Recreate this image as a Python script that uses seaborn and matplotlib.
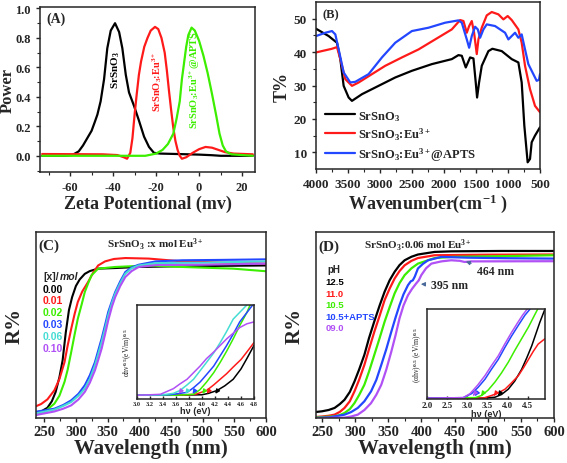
import numpy as np
import pandas as pd
import matplotlib
matplotlib.use('Agg')
import matplotlib.pyplot as plt
import seaborn as sns

# ---------------- (A) Zeta potential ----------------
zeta_x_srsno3 = [-73, -62, -59, -56, -54, -52, -50, -48.5, -47.3, -45.8, -44.2, -42.7, -41.1, -39.1, -37.2, -35.7, -34.1, -32.6, -30.3, -28, -25.6, -23.3, -21, -18, -10, 0, 6, 10, 25]
zeta_srsno3 = [0, 0, 0.005, 0.03, 0.07, 0.12, 0.17, 0.23, 0.28, 0.37, 0.52, 0.73, 0.85, 0.90, 0.84, 0.73, 0.55, 0.43, 0.34, 0.24, 0.13, 0.06, 0.02, 0.015, 0.012, 0.008, 0.004, 0.0, 0.0]
zeta_x_eu = [-73, -45, -38, -35, -33.5, -32, -31, -30, -29, -28, -27, -25.5, -24, -22.5, -20.5, -19, -17.5, -16, -15, -14, -13, -12, -11, -10, -9, -8, -6, -3, 0, 3, 6, 9, 12, 16, 25]
zeta_eu = [0.012, 0.01, 0.005, -0.01, -0.02, 0.02, 0.12, 0.28, 0.42, 0.55, 0.64, 0.74, 0.80, 0.85, 0.875, 0.86, 0.80, 0.70, 0.58, 0.44, 0.31, 0.19, 0.10, 0.04, 0.0, -0.02, -0.01, 0.02, 0.045, 0.06, 0.055, 0.04, 0.025, 0.015, 0.01]
zeta_x_apts = [-73, -25, -20, -17, -14.5, -12, -10.5, -9, -8, -7, -6, -5, -3.5, -2, 0, 2, 4, 6, 8, 9.5, 11, 12.5, 15, 25]
zeta_apts = [0, 0, 0.015, 0.04, 0.08, 0.15, 0.25, 0.37, 0.52, 0.63, 0.74, 0.82, 0.87, 0.85, 0.78, 0.68, 0.56, 0.42, 0.27, 0.15, 0.07, 0.03, 0.01, 0]

# ---------------- (B) FTIR ----------------
ir_x_srsno3 = [4000, 3802, 3672, 3620, 3568, 3490, 3438, 3282, 3022, 2762, 2502, 2190, 1878, 1774, 1722, 1660, 1592, 1540, 1504, 1483, 1452, 1410, 1306, 1244, 1098, 942, 838, 786, 745, 693, 656, 630, 578, 500]
ir_srsno3 = [47, 44.8, 42.8, 37.9, 29.9, 26.4, 25.4, 27.4, 29.9, 32.4, 34.4, 36.4, 37.9, 39.1, 38.9, 35.4, 38.4, 38.1, 30.9, 26.4, 30.9, 35.9, 40.3, 41.0, 40.3, 37.9, 36.9, 30.9, 18, 7, 8, 13, 15, 17.5]
ir_x_eu = [4000, 3750, 3672, 3620, 3542, 3438, 3334, 3126, 2918, 2658, 2398, 2138, 1878, 1748, 1696, 1644, 1607, 1566, 1530, 1488, 1462, 1410, 1332, 1254, 1150, 1072, 1005, 942, 838, 786, 734, 656, 578, 500]
ir_eu = [39.9, 41, 41.5, 37.9, 31.9, 29.9, 30.9, 33.4, 35.9, 38.4, 40.8, 43.8, 46.8, 49.6, 49.3, 45.8, 47.8, 49.3, 45.8, 39.4, 43.8, 47.3, 51, 52, 51.3, 49.8, 50.8, 49.6, 46.8, 42.8, 35.9, 28.9, 23.9, 22]
ir_x_apts = [4000, 3854, 3750, 3698, 3646, 3568, 3464, 3386, 3178, 2970, 2762, 2502, 2242, 1982, 1774, 1722, 1644, 1607, 1566, 1514, 1472, 1436, 1384, 1332, 1202, 1046, 994, 890, 838, 786, 734, 682, 604, 552, 516, 500]
ir_apts = [44.8, 45.8, 46.3, 45.3, 40.8, 33.9, 30.9, 31.1, 33.4, 38.4, 42.8, 46.3, 47.3, 48.8, 49.5, 48.8, 43.8, 41.3, 44.8, 47.6, 46.8, 44.3, 46.8, 48.3, 47.8, 45.8, 43.8, 45.8, 44.3, 45.3, 40.8, 36.4, 33.4, 31.4, 31.7, 33.4]

# ---------------- (C) reflectance vs Eu content ----------------
c_labels = ['0.00', '0.01', '0.02', '0.03', '0.06', '0.10']
c_x_000 = [234, 245, 255, 262, 268, 274, 279, 284, 289, 294, 300, 306, 314, 322, 335, 360, 400, 450, 500, 600]
c_000 = [3, 3.5, 5.5, 9, 14, 22, 31, 46, 58, 65, 71, 74.5, 77.5, 79, 80.3, 80.6, 81.2, 81.5, 81.7, 82]
c_x_001 = [234, 245, 255, 266, 274, 282, 287, 292.6, 298, 303, 310, 319, 327, 335, 346, 360, 378, 415, 468, 530, 600]
c_001 = [5.9, 7.5, 10, 14.9, 21, 30, 39, 48, 56, 62.4, 68, 73, 78, 82, 84.2, 85.5, 86, 85.7, 84.2, 83.6, 83]
c_x_002 = [234, 250, 266, 274, 282, 287, 292.6, 298, 303, 309, 314, 320, 324.6, 335, 362, 415, 468, 548, 600]
c_002 = [1.4, 3.2, 7.7, 12, 19.4, 26, 35.5, 45, 53.4, 61, 67.7, 73, 76.7, 80.3, 81.2, 82, 81.2, 80.3, 78.9]
c_x_003 = [234, 266, 280, 292.6, 304, 314, 322, 330, 335, 340.6, 346, 351, 357, 362, 370, 378, 388, 399, 426, 468, 530, 600]
c_003 = [3.2, 5, 7, 9.5, 13, 17.6, 23, 30, 36, 42.7, 50, 57, 63, 67.7, 73.5, 78.5, 81, 82.4, 84.2, 84.8, 85, 85.3]
c_x_006 = [234, 266, 280, 292.6, 304, 314, 322, 330, 335, 340.6, 346, 351, 357, 362, 370, 378, 388, 399, 426, 500, 600]
c_006 = [2.3, 4.5, 6.5, 8.6, 12, 15.8, 21, 28.3, 34, 40.9, 48, 55.2, 62, 66.8, 72.5, 77.6, 80.5, 82, 83.3, 83.5, 84.2]
c_x_010 = [234, 266, 280, 292.6, 304, 314, 322, 330, 335, 340.6, 346, 351, 357, 362, 370, 378, 388, 399, 426, 500, 600]
c_010 = [1.4, 3.5, 5, 6.8, 10, 14, 19, 25.6, 31, 37.3, 45, 52.5, 60, 65, 71, 75.8, 79, 81.2, 82.2, 82.4, 83]

# inset (C): Tauc plot
tc_x_000 = [3.0, 3.6, 4.0, 4.1, 4.23, 4.35, 4.48, 4.6, 4.69, 4.8]
tc_000 = [0.04, 0.04, 0.045, 0.06, 0.09, 0.14, 0.21, 0.32, 0.43, 0.57]
tc_x_001 = [3.0, 3.6, 3.9, 4.07, 4.18, 4.28, 4.38, 4.48, 4.6, 4.69, 4.8]
tc_001 = [0.04, 0.04, 0.05, 0.09, 0.15, 0.21, 0.27, 0.34, 0.42, 0.5, 0.6]
tc_x_002 = [3.0, 3.6, 3.87, 3.97, 4.07, 4.18, 4.28, 4.38, 4.48, 4.58, 4.69, 4.74]
tc_002 = [0.04, 0.04, 0.05, 0.1, 0.18, 0.28, 0.39, 0.51, 0.64, 0.78, 0.92, 1.0]
tc_x_003 = [3.0, 3.5, 3.77, 3.87, 3.97, 4.07, 4.18, 4.28, 4.38, 4.48, 4.58, 4.78]
tc_003 = [0.04, 0.045, 0.07, 0.12, 0.18, 0.26, 0.35, 0.46, 0.57, 0.69, 0.82, 1.0]
tc_x_006 = [3.0, 3.4, 3.56, 3.66, 3.77, 3.87, 3.97, 4.07, 4.18, 4.28, 4.38, 4.48, 4.69]
tc_006 = [0.04, 0.045, 0.06, 0.09, 0.15, 0.21, 0.3, 0.39, 0.49, 0.6, 0.72, 0.85, 1.0]
tc_x_010 = [3.0, 3.2, 3.36, 3.46, 3.56, 3.66, 3.77, 3.87, 3.97, 4.07, 4.18, 4.28, 4.38, 4.48, 4.58, 4.69, 4.8]
tc_010 = [0.04, 0.045, 0.05, 0.08, 0.11, 0.16, 0.21, 0.28, 0.35, 0.43, 0.5, 0.57, 0.64, 0.7, 0.76, 0.8, 0.82]
tc_gap = [4.18, 4.05, 3.98, 3.83, 3.72, 3.62]

# ---------------- (D) reflectance vs pH ----------------
d_labels = ['12.5', '11.0', '10.5', '10.5+APTS', '09.0']
d_x_125 = [240, 250, 260, 269, 277, 284, 292, 299, 306, 314, 321, 329, 337, 344.5, 352, 359.6, 367, 374.7, 385, 394.8, 420, 445, 520, 600]
d_125 = [3.2, 3.6, 4.3, 5.4, 7.5, 9.8, 14, 19.6, 26, 34, 43, 52, 60.5, 67.9, 74, 78.6, 82.2, 84.8, 86.7, 87.9, 89.3, 89.6, 89.8, 89.8]
d_x_110 = [240, 250, 260, 269, 277, 284, 292, 299, 306, 314, 321, 329, 337, 344.5, 352, 359.6, 367, 374.7, 385, 394.8, 420, 500, 600]
d_110 = [0.5, 0.8, 1.2, 1.8, 3.3, 5.4, 9, 14.3, 20.5, 28.6, 37, 46.4, 55, 63.4, 69.5, 75, 79, 82.1, 84.5, 86, 87.5, 87.8, 87.9]
d_x_105 = [240, 269, 277, 284, 292, 299, 306, 314, 321, 329, 337, 344.5, 352, 359.6, 367, 374.7, 385, 394.8, 420, 445, 520, 600]
d_105 = [0.3, 0.9, 1.6, 2.7, 4.8, 8, 12.3, 17.9, 25, 34, 43, 51.8, 59.5, 67, 72.5, 76.8, 80.5, 83, 86, 86.6, 87, 87.5]
d_x_apts = [240, 262, 284, 294, 304, 314, 324, 332, 339.5, 347, 354.6, 361, 367, 373, 379.7, 384, 387, 390, 394.8, 402, 410, 430, 470, 530, 600]
d_apts = [0, 0.4, 1.8, 3.2, 5.4, 9, 14.3, 20.5, 28.6, 37, 46.4, 54, 60.7, 66.5, 71.4, 73.5, 74, 76, 80.4, 82.8, 84.8, 86.6, 86.2, 85.9, 85.7]
d_x_090 = [240, 284, 294, 304, 314, 324, 332, 339.5, 347, 354.6, 361, 367, 373, 379.7, 386, 392, 396, 399.8, 407, 415, 430, 445, 458, 465, 475, 600]
d_090 = [0, 0.2, 0.8, 1.8, 4.3, 8, 12.5, 17.9, 26, 35.7, 44.5, 53.6, 60.5, 66, 69.5, 72.3, 74, 76.8, 80.5, 83, 84.2, 84.8, 84.5, 83.9, 84.2, 84.3]

# inset (D): Tauc plot
td_x_125 = [2.0, 3.4, 3.69, 3.85, 4.02, 4.18, 4.35, 4.48, 4.6, 4.7, 4.8, 4.93]
td_125 = [0.01, 0.01, 0.02, 0.05, 0.11, 0.2, 0.33, 0.46, 0.59, 0.72, 0.85, 1.0]
td_x_110 = [2.0, 3.4, 3.61, 3.78, 3.94, 4.1, 4.27, 4.4, 4.52, 4.64, 4.76, 4.93]
td_110 = [0.01, 0.01, 0.04, 0.07, 0.11, 0.18, 0.26, 0.35, 0.44, 0.53, 0.61, 0.67]
td_x_105 = [2.0, 3.2, 3.36, 3.52, 3.69, 3.85, 4.02, 4.18, 4.35, 4.52, 4.68, 4.75]
td_105 = [0.01, 0.015, 0.04, 0.1, 0.19, 0.29, 0.41, 0.54, 0.67, 0.8, 0.94, 1.0]
td_x_apts = [2.0, 2.9, 3.11, 3.27, 3.44, 3.6, 3.77, 3.93, 4.1, 4.27, 4.43, 4.56]
td_apts = [0.01, 0.015, 0.06, 0.13, 0.22, 0.33, 0.44, 0.57, 0.7, 0.82, 0.93, 1.0]
td_x_090 = [2.0, 2.9, 3.07, 3.25, 3.44, 3.6, 3.77, 3.93, 4.1, 4.24, 4.37, 4.49]
td_090 = [0.01, 0.015, 0.06, 0.15, 0.26, 0.37, 0.48, 0.61, 0.74, 0.84, 0.93, 1.0]
td_gap = [3.72, 3.62, 3.3, 3.15, 3.1]

BLACK, RED, GREEN, BLUE, CYAN, PURPLE = 'black', '#ff1a1a', '#3cee00', '#2346ff', '#45dcd4', '#b050f5'

sns.set_style('ticks')
plt.rcParams['font.family'] = ['Liberation Serif', 'DejaVu Serif']
plt.rcParams['font.weight'] = 'bold'
plt.rcParams['mathtext.fontset'] = 'custom'
plt.rcParams['mathtext.rm'] = 'Liberation Serif:bold'
plt.rcParams['mathtext.it'] = 'Liberation Serif:italic:bold'
plt.rcParams['mathtext.bf'] = 'Liberation Serif:bold'
plt.rcParams['mathtext.default'] = 'rm'
plt.rcParams['axes.unicode_minus'] = False
plt.rcParams['axes.linewidth'] = 1.1
plt.rcParams['xtick.major.width'] = 1.0
plt.rcParams['ytick.major.width'] = 1.0
plt.rcParams['xtick.minor.width'] = 0.8
plt.rcParams['ytick.minor.width'] = 0.8

W, H = 567, 464
fig = plt.figure(figsize=(W / 100, H / 100), dpi=100)


def box(l, t, r, b):
    return [l / W, 1 - b / H, (r - l) / W, (b - t) / H]


def line(ax, x, y, c, lw=1.6):
    sns.lineplot(x=x, y=y, ax=ax, color=c, lw=lw, sort=False, estimator=None)


# ---- (A)
axA = fig.add_axes(box(40, 8, 255, 173))
line(axA, zeta_x_srsno3, zeta_srsno3, BLACK)
line(axA, zeta_x_eu, zeta_eu, RED)
line(axA, zeta_x_apts, zeta_apts, GREEN)
axA.set_xlim(-74, 26)
axA.set_ylim(-0.11, 1.01)
axA.set_xticks([-60, -40, -20, 0, 20])
axA.set_xticks([-70, -50, -30, -10, 10], minor=True)
axA.set_yticks([0.0, 0.2, 0.4, 0.6, 0.8, 1.0])
axA.set_yticks([-0.1, 0.1, 0.3, 0.5, 0.7, 0.9], minor=True)
axA.tick_params(labelsize=9, length=3)
axA.tick_params(which='minor', length=2)
axA.set_xlabel('Zeta Potentional (mv)', fontsize=13, fontweight='bold', labelpad=1)
axA.set_ylabel('Power', fontsize=12, fontweight='bold')
axA.yaxis.set_label_coords(-0.115, 0.5)
axA.text(0.03, 0.91, '(A)', transform=axA.transAxes, fontsize=10, fontweight='bold')
axA.text(-38.8, 0.59, 'SrSnO$_3$', rotation=90, ha='center', va='center', fontsize=8, color=BLACK)
axA.text(-19.4, 0.51, 'SrSnO$_3$:Eu$^{3+}$', rotation=90, ha='center', va='center', fontsize=7.5, color=RED)
axA.text(-2.2, 0.52, 'SrSnO$_3$:Eu$^{3+}$@APTS', rotation=90, ha='center', va='center', fontsize=7.5, color=GREEN)

# ---- (B)
axB = fig.add_axes(box(316, 3, 540, 170))
line(axB, ir_x_srsno3, ir_srsno3, BLACK)
line(axB, ir_x_eu, ir_eu, RED)
line(axB, ir_x_apts, ir_apts, BLUE)
axB.set_xlim(4000, 500)
axB.set_ylim(5, 55)
axB.set_xticks([4000, 3500, 3000, 2500, 2000, 1500, 1000, 500])
axB.set_xticks(np.arange(750, 4000, 500), minor=True)
axB.set_yticks([10, 20, 30, 40, 50])
axB.set_yticks([15, 25, 35, 45], minor=True)
axB.tick_params(labelsize=9.5, length=3)
axB.tick_params(which='minor', length=2)
axB.set_xlabel('Wavenumber(cm$^{-1}$ )', fontsize=13, fontweight='bold', labelpad=1)
axB.set_ylabel('T%', fontsize=13, fontweight='bold', labelpad=2)
axB.text(0.03, 0.91, '(B)', transform=axB.transAxes, fontsize=9, fontweight='bold')
axB.legend(axB.get_lines(), ['SrSnO$_3$', 'SrSnO$_3$:Eu$^{3+}$', 'SrSnO$_3$:Eu$^{3+}$@APTS'],
           loc='lower left', bbox_to_anchor=(0.0, -0.015), frameon=False, fontsize=9,
           handlelength=2.4, handletextpad=0.3, labelspacing=0.25, borderaxespad=0.3)

# ---- (C)
axC = fig.add_axes(box(36, 233, 266, 419))
c_sets = [(c_x_000, c_000), (c_x_001, c_001), (c_x_002, c_002), (c_x_003, c_003), (c_x_006, c_006), (c_x_010, c_010)]
c_cols = [BLACK, RED, GREEN, BLUE, CYAN, PURPLE]
for (x, y), c in zip(c_sets, c_cols):
    line(axC, x, y, c, 1.5)
axC.set_xlim(237, 600)
axC.set_ylim(0, 100)
axC.set_yticks([])
axC.set_xticks(np.arange(250, 601, 50))
axC.set_xticks(np.arange(275, 600, 50), minor=True)
axC.tick_params(labelsize=10.5, length=3, pad=2)
axC.tick_params(which='minor', length=2)
axC.set_xlabel('Wavelength (nm)', fontsize=15, fontweight='bold', labelpad=0)
axC.set_ylabel('R%', fontsize=15, fontweight='bold', labelpad=8)
axC.text(0.01, 0.91, '(C)', transform=axC.transAxes, fontsize=11, fontweight='bold')
axC.text(0.52, 0.915, 'SrSnO$_3$ :x mol Eu$^{3+}$', transform=axC.transAxes, ha='center', fontsize=8)
axC.text(0.03, 0.745, '[x]/', transform=axC.transAxes, fontsize=7.5, family='Liberation Sans', fontweight='bold')
axC.text(0.105, 0.745, 'mol', transform=axC.transAxes, fontsize=7.5, family='Liberation Sans', fontweight='bold', style='italic')
for i, (lab, c) in enumerate(zip(c_labels, c_cols)):
    axC.text(0.03, 0.68 - i * 0.0635, lab, transform=axC.transAxes, fontsize=7.5, color=c,
             family='Liberation Sans', fontweight='bold')

# inset C
inC = fig.add_axes(box(137, 306, 254, 400))
tc_sets = [(tc_x_000, tc_000), (tc_x_001, tc_001), (tc_x_002, tc_002), (tc_x_003, tc_003), (tc_x_006, tc_006), (tc_x_010, tc_010)]
for (x, y), c in zip(tc_sets, c_cols):
    line(inC, x, y, c, 1.1)
for g, c in zip(tc_gap, c_cols):
    inC.annotate('', xy=(g, 0.03), xytext=(g + 0.08, 0.11),
                 arrowprops=dict(arrowstyle='-|>', color=c, lw=1.0, mutation_scale=6))
inC.set_xlim(3.0, 4.8)
inC.set_ylim(0, 1.0)
inC.set_yticks([])
inC.set_xticks(np.arange(3.0, 4.81, 0.2))
inC.set_xticklabels([f'{v:.1f}' for v in np.arange(3.0, 4.81, 0.2)])
inC.tick_params(labelsize=4.5, length=2, direction='in', pad=1.5)
inC.set_xlabel('hν (eV)', fontsize=6.5, family='Liberation Sans', fontweight='bold', labelpad=0)
inC.set_ylabel('αhν$^{0.5}$(eV/m)$^{0.5}$', fontsize=5.5, labelpad=2)

# ---- (D)
axD = fig.add_axes(box(316, 233, 554, 419))
d_sets = [(d_x_125, d_125), (d_x_110, d_110), (d_x_105, d_105), (d_x_apts, d_apts), (d_x_090, d_090)]
d_cols = [BLACK, RED, GREEN, BLUE, PURPLE]
for (x, y), c in zip(d_sets, d_cols):
    line(axD, x, y, c, 1.6)
axD.set_xlim(241, 600)
axD.set_ylim(0, 100)
axD.set_yticks([])
axD.set_xticks(np.arange(250, 601, 50))
axD.set_xticks(np.arange(275, 600, 50), minor=True)
axD.tick_params(labelsize=10.5, length=3, pad=2)
axD.tick_params(which='minor', length=2)
axD.set_xlabel('Wavelength (nm)', fontsize=15, fontweight='bold', labelpad=0)
axD.set_ylabel('R%', fontsize=15, fontweight='bold', labelpad=8)
axD.text(0.01, 0.905, '(D)', transform=axD.transAxes, fontsize=11, fontweight='bold')
axD.text(0.43, 0.91, 'SrSnO$_3$:0.06 mol Eu$^{3+}$', transform=axD.transAxes, ha='center', fontsize=8)
axD.text(0.05, 0.785, 'pH', transform=axD.transAxes, fontsize=7, family='Liberation Sans', fontweight='bold')
for i, (lab, c) in enumerate(zip(d_labels, d_cols)):
    axD.text(0.04, 0.72 - i * 0.062, lab, transform=axD.transAxes, fontsize=6.8, color=c,
             family='Liberation Sans', fontweight='bold')
axD.annotate('464 nm', xy=(463, 84.5), xytext=(484, 79), fontsize=8.5, va='center',
             arrowprops=dict(arrowstyle='-|>', color='#4a6a9a', lw=0.8, mutation_scale=6))
axD.annotate('395 nm', xy=(395, 72), xytext=(415, 71.5), fontsize=8.5, va='center',
             arrowprops=dict(arrowstyle='-|>', color='#4a6a9a', lw=0.8, mutation_scale=6))

# inset D
inD = fig.add_axes(box(427, 310, 545, 400))
td_sets = [(td_x_125, td_125), (td_x_110, td_110), (td_x_105, td_105), (td_x_apts, td_apts), (td_x_090, td_090)]
for (x, y), c in zip(td_sets, d_cols):
    line(inD, x, y, c, 1.1)
for g, c in zip(td_gap, d_cols):
    inD.annotate('', xy=(g, 0.01), xytext=(g + 0.1, 0.07),
                 arrowprops=dict(arrowstyle='-|>', color=c, lw=1.0, mutation_scale=6))
inD.set_xlim(2.0, 4.93)
inD.set_ylim(0, 1.0)
inD.set_yticks([])
inD.set_xticks([2.0, 2.5, 3.0, 3.5, 4.0, 4.5])
inD.set_xticklabels(['2.0', '2.5', '3.0', '3.5', '4.0', '4.5'])
inD.tick_params(labelsize=6.5, length=2, direction='in', pad=1.5)
inD.set_xlabel('hν (eV)', fontsize=6.5, family='Liberation Sans', fontweight='bold', labelpad=0)
inD.set_ylabel('(αhν)$^{0.5}$ (eV/m)$^{0.5}$', fontsize=5.5, labelpad=2)

fig.savefig('out.png', dpi=100)
